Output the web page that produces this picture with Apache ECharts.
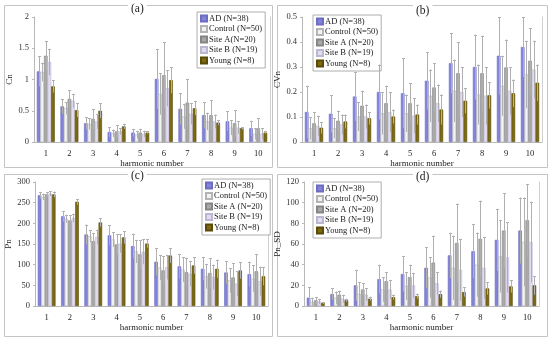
<!DOCTYPE html>
<html><head><meta charset="utf-8">
<script src="https://cdn.jsdelivr.net/npm/echarts@6/dist/echarts.min.js"></script>
<style>html,body{margin:0;padding:0;background:#fff}#c{width:550px;height:340px}</style>
</head><body><div id="c"></div>
<script>
const harmonics = ['1','2','3','4','5','6','7','8','9','10'];
const groupNames = ['AD (N=38)','Control (N=50)','Site A (N=20)','Site B (N=19)','Young (N=8)'];
const panelLabels = ['(a)','(b)','(c)','(d)'];
const yNames = ['Cn','CVn','Pn','Pn_SD'];
const yMax = [2, 0.5, 300, 120];
const yStep = [0.5, 0.1, 50, 20];

// (a) Cn  mean / sd
const cnAD = [1.13,0.57,0.30,0.16,0.15,1.01,0.53,0.43,0.33,0.22];
const cnADsd = [0.24,0.12,0.10,0.08,0.06,0.48,0.25,0.21,0.16,0.12];
const cnCtl = [1.12,0.54,0.29,0.14,0.12,0.77,0.41,0.33,0.23,0.13];
const cnCtlsd = [0.15,0.10,0.09,0.06,0.06,0.33,0.20,0.14,0.12,0.09];
const cnSA = [1.38,0.69,0.37,0.17,0.15,1.07,0.63,0.43,0.30,0.22];
const cnSAsd = [0.23,0.14,0.16,0.10,0.06,0.53,0.38,0.24,0.21,0.16];
const cnSB = [1.28,0.66,0.33,0.17,0.13,0.86,0.45,0.33,0.23,0.13];
const cnSBsd = [0.21,0.11,0.12,0.05,0.05,0.29,0.17,0.11,0.10,0.09];
const cnY = [0.89,0.51,0.50,0.25,0.15,0.99,0.54,0.31,0.22,0.15];
const cnYsd = [0.10,0.11,0.12,0.04,0.02,0.21,0.11,0.04,0.02,0.02];

// (b) CVn
const cvAD = [0.120,0.113,0.182,0.200,0.195,0.245,0.315,0.300,0.345,0.380];
const cvADsd = [0.105,0.075,0.098,0.110,0.140,0.115,0.120,0.130,0.155,0.120];
const cvCtl = [0.055,0.055,0.102,0.115,0.115,0.185,0.205,0.190,0.225,0.270];
const cvCtlsd = [0.045,0.040,0.058,0.085,0.075,0.105,0.125,0.120,0.120,0.135];
const cvSA = [0.075,0.085,0.145,0.155,0.155,0.218,0.275,0.275,0.298,0.325];
const cvSAsd = [0.045,0.040,0.060,0.070,0.080,0.097,0.125,0.150,0.112,0.130];
const cvSB = [0.065,0.070,0.102,0.120,0.105,0.155,0.200,0.185,0.205,0.290];
const cvSBsd = [0.040,0.040,0.048,0.080,0.070,0.075,0.100,0.115,0.095,0.115];
const cvY = [0.057,0.082,0.095,0.102,0.110,0.130,0.165,0.187,0.195,0.237];
const cvYsd = [0.023,0.028,0.025,0.028,0.040,0.060,0.050,0.053,0.055,0.073];

// (c) Pn
const pnAD = [268,217,173,171,145,107,96,90,81,77];
const pnADsd = [8,13,24,24,30,33,30,28,28,30];
const pnCtl = [264,211,169,161,132,93,88,72,62,66];
const pnCtlsd = [8,10,15,18,28,30,30,30,30,32];
const pnSA = [270,207,157,149,125,86,82,80,69,84];
const pnSAsd = [6,12,20,25,35,35,35,35,35,42];
const pnSB = [272,213,167,151,131,94,78,70,54,60];
const pnSBsd = [6,10,18,22,30,30,30,30,30,35];
const pnY = [270,252,202,166,151,122,98,90,86,72];
const pnYsd = [7,7,10,15,10,18,20,22,20,22];

// (d) Pn_SD
const psAD = [8,11.5,20,26,31,37,49,53,64,73];
const psADsd = [10.5,5.5,15,14,17,20,22,26,30,32];
const psCtl = [4,8,11.5,16,19.5,27.5,37,40,48,62];
const psCtlsd = [4,6,11.5,12,13.5,19.5,31,31,35,43];
const psSA = [5.5,11,16,24,28,42,61,65,73,83];
const psSAsd = [3.3,4,6,9,12,26,38,37,36,35];
const psSB = [4.5,7,11,16,20,22,35,37,47,62];
const psSBsd = [2.5,4,6,9,12,11,30,30,34,39];
const psY = [3,5.5,7,8.5,9.5,11.5,13.5,17,19,20];
const psYsd = [1,1.5,2,2.5,2.5,3.5,4.5,6,6,9];

const panelMeans = [[cnAD,cnCtl,cnSA,cnSB,cnY],[cvAD,cvCtl,cvSA,cvSB,cvY],[pnAD,pnCtl,pnSA,pnSB,pnY],[psAD,psCtl,psSA,psSB,psY]];
const panelSds = [[cnADsd,cnCtlsd,cnSAsd,cnSBsd,cnYsd],[cvADsd,cvCtlsd,cvSAsd,cvSBsd,cvYsd],[pnADsd,pnCtlsd,pnSAsd,pnSBsd,pnYsd],[psADsd,psCtlsd,psSAsd,psSBsd,psYsd]];

// styles / layout
const FONT = 'Liberation Serif';
const fills = ['#8383d9','#f3f3f3','#a9a9a9','#e2dcf0','#7c6a12'];
const borders = ['#6c6cc0','#b4b4b4','#858585','#bdb6d2','#5a4a08'];
const layout = [
  {grid:{left:34,top:17,width:236,height:125}, frame:[4,5,268,162], title:[128,2], legend:[197,12]},
  {grid:{left:302,top:17,width:240,height:125}, frame:[277,5,270,162], title:[413,4], legend:[313,15]},
  {grid:{left:35,top:182,width:233,height:124}, frame:[4,174,268,162], title:[128,169], legend:[202,179]},
  {grid:{left:304,top:182,width:235,height:124}, frame:[277,174,270,162], title:[413,170], legend:[313,182]}
];

const grids=[], xAxes=[], yAxes=[], series=[], legends=[], titles=[], graphics=[];
layout.forEach((L,p)=>{
  grids.push(Object.assign({containLabel:false}, L.grid));
  xAxes.push({type:'category', gridIndex:p, data:harmonics,
    name:'harmonic number', nameLocation:'middle', nameGap:17,
    nameTextStyle:{fontFamily:FONT,fontSize:9,color:'#222'},
    axisLine:{lineStyle:{color:'#b8b8b8'}}, axisTick:{show:false},
    axisLabel:{fontFamily:FONT,fontSize:8.5,color:'#222',margin:7}});
  yAxes.push({type:'value', gridIndex:p, min:0, max:yMax[p], interval:yStep[p],
    name:yNames[p], nameLocation:'middle', nameGap: p%2===0 ? 18 : 17, nameRotate:90,
    nameTextStyle:{fontFamily:FONT,fontSize:9,color:'#222'},
    axisLine:{show:true,lineStyle:{color:'#b8b8b8'}}, axisTick:{show:true,length:2,lineStyle:{color:'#b8b8b8'}},
    splitLine:{show:false},
    axisLabel:{fontFamily:FONT,fontSize:8.5,color:'#333',margin:5}});
  yAxes.push({type:'value', gridIndex:p, position:'right', min:0, max:yMax[p], interval:yStep[p],
    axisLine:{show:true,lineStyle:{color:'#d0d0d0'}}, axisTick:{show:false}, axisLabel:{show:false}, splitLine:{show:false}});
  const yi = p*2;
  groupNames.forEach((nm,k)=>{
    series.push({type:'bar', name:nm, xAxisIndex:p, yAxisIndex:yi,
      data:panelMeans[p][k], barGap:'0%', barCategoryGap:'24%',
      itemStyle:{color:fills[k], borderColor:borders[k], borderWidth:0.6}, silent:true, animation:false});
  });
  groupNames.forEach((nm,k)=>{
    const data = panelMeans[p][k].map((m,i)=>[i,m,panelSds[p][k][i]]);
    series.push({type:'custom', xAxisIndex:p, yAxisIndex:yi, data:data, z:5, silent:true, animation:false,
      renderItem:function(params,api){
        const i=api.value(0), m=api.value(1), s=api.value(2);
        const w=api.size([1,0])[0];
        const off=(k-2)*w*0.76/5;
        const pt=api.coord([i,m+s]); const pb=api.coord([i,Math.max(m-s,0)]);
        const x=Math.round(pt[0]+off)+0.5;
        const st={stroke:'#b0b0b0',lineWidth:1};
        return {type:'group',children:[
          {type:'line',shape:{x1:x,y1:pt[1],x2:x,y2:pb[1]},style:st},
          {type:'line',shape:{x1:x-1.5,y1:Math.round(pt[1])+0.5,x2:x+1.5,y2:Math.round(pt[1])+0.5},style:st}
        ]};
      }});
  });
  legends.push({orient:'vertical', left:L.legend[0], top:L.legend[1], data:groupNames,
    itemWidth:6, itemHeight:6, itemGap:1.5, padding:[2,3,3,3],
    borderColor:'#999', borderWidth:0.8, backgroundColor:'#fff',
    selectedMode:false, icon:'rect',
    formatter: p===0 ? (n=>n.replace('Site A (','Site A(')) : (n=>n),
    textStyle:{fontFamily:FONT,fontSize:8.5,color:'#222',lineHeight:8.5, padding:[0,0,0,-3]}});
  titles.push({text:panelLabels[p], left:L.title[0], top:L.title[1], backgroundColor:'#fff', padding:[1,3],
    textStyle:{fontFamily:FONT,fontSize:11.5,fontWeight:'normal',color:'#222'}});
  graphics.push({type:'rect', z:-10, shape:{x:L.frame[0]+0.5,y:L.frame[1]+0.5,width:L.frame[2],height:L.frame[3]},
    style:{fill:'#fff',stroke:'#c4c4c4',lineWidth:1}});
});

const chart = echarts.init(document.getElementById('c'), null, {renderer:'canvas'});
chart.setOption({animation:false, backgroundColor:'#fff', grid:grids, xAxis:xAxes, yAxis:yAxes,
  series:series, legend:legends, title:titles, graphic:graphics});
</script></body></html>
